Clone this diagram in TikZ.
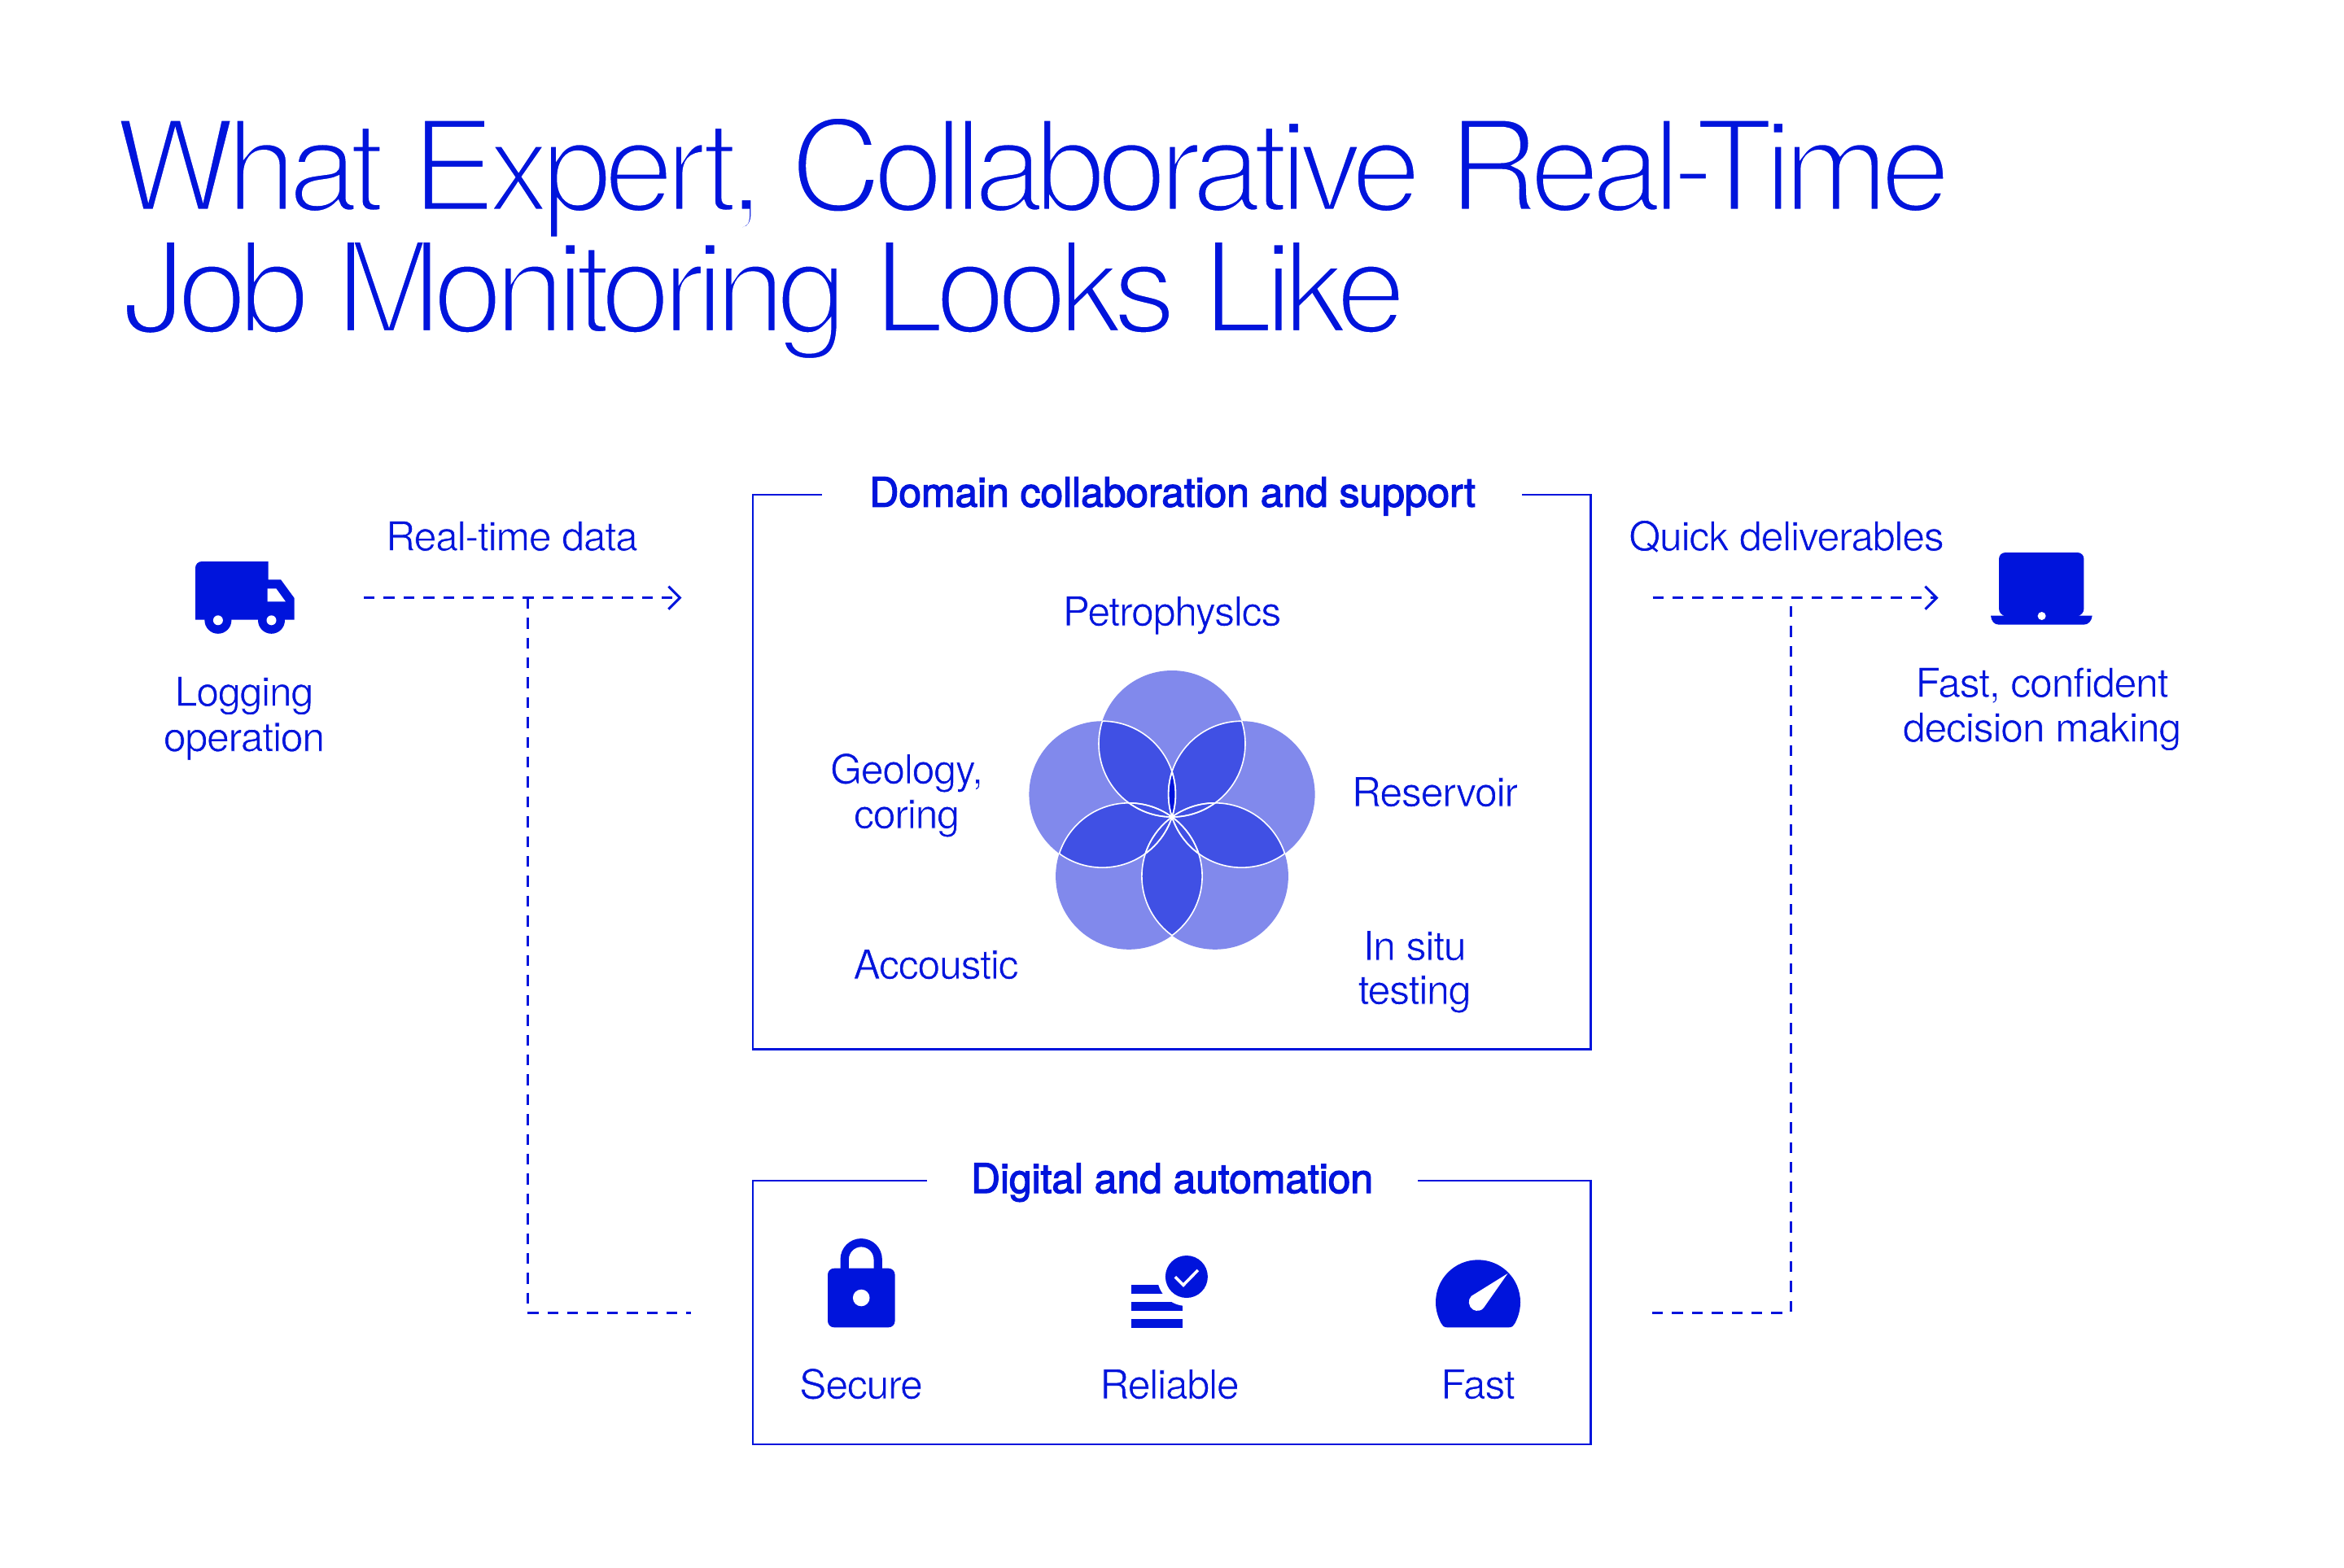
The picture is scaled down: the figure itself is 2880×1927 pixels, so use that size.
\documentclass[tikz,border=0pt]{standalone}
\usepackage{fontspec}
\usetikzlibrary{arrows.meta}
\setmainfont{TeX Gyre Heros}
\newfontfamily\headfont[FakeBold=2.5,LetterSpace=-0.3]{TeX Gyre Heros}
\newfontfamily\labelfont[LetterSpace=-2.5]{TeX Gyre Heros}
\newfontfamily\titlefont[LetterSpace=-7]{TeX Gyre Heros}
\definecolor{ink}{HTML}{0014DC}
\definecolor{petal}{HTML}{8189EC}
\definecolor{lens}{HTML}{4050E4}
\newcommand{\lighttext}{\special{pdf:code 2 Tr 1 1 1 RG 0.35 w}}
\newcommand{\lighttitle}{\special{pdf:code 2 Tr 1 1 1 RG 2.8 w}}
\tikzset{
  lbl/.style={text=ink,anchor=base,inner sep=0pt,font=\fontsize{25}{27.8}\labelfont},
  headlbl/.style={text=ink,anchor=base,inner sep=0pt,font=\fontsize{25}{27}\headfont},
  titlelbl/.style={text=ink,anchor=base west,inner sep=0pt,font=\fontsize{78}{80}\titlefont},
  frame/.style={draw=ink,line width=1.45pt},
  flowline/.style={draw=ink,line width=1.5pt,dash pattern=on 6.7pt off 5.5pt},
  flowarrow/.style={flowline,-{Straight Barb[length=7pt,width=14pt,line width=1.5pt]}},
  whiteline/.style={draw=white,line width=0.8pt},
}
\begin{document}
\begin{tikzpicture}[x=0.5pt,y=-0.5pt]
\useasboundingbox (0,0) rectangle (2880,1927);
\fill[white] (0,0) rectangle (2880,1927);
% title
\node[titlelbl] (t1) at (141,259.5) {\lighttitle What Expert, Collaborative Real-Time};
\node[titlelbl] (t2) at (150,408.8) {\lighttitle Job Monitoring Looks Like};
% boxes
\coordinate (bA) at (1009.5,608); \coordinate (bB) at (925,608); \coordinate (bC) at (925,1289.3);
\coordinate (bD) at (1954.4,1289.3); \coordinate (bE) at (1954.4,608); \coordinate (bF) at (1869.7,608);
\draw[frame] (bA) -- (bB) -- (bC) -- (bD) -- (bE) -- (bF);
\coordinate (cA) at (1139,1451); \coordinate (cB) at (925,1451); \coordinate (cC) at (925,1775);
\coordinate (cD) at (1954.4,1775); \coordinate (cE) at (1954.4,1451); \coordinate (cF) at (1741.6,1451);
\draw[frame] (cA) -- (cB) -- (cC) -- (cD) -- (cE) -- (cF);
% flower
\foreach \a in {0,72,144,216,288}{
  \fill[petal] ({1440+90*sin(\a)},{1004-90*cos(\a)}) circle [radius=90];
}
\foreach \a in {0,72,144,216,288}{
  \begin{scope}
    \clip ({1440+90*sin(\a)},{1004-90*cos(\a)}) circle [radius=90];
    \fill[lens] ({1440+90*sin(\a+72)},{1004-90*cos(\a+72)}) circle [radius=90];
  \end{scope}
  \begin{scope}
    \clip ({1440+90*sin(\a)},{1004-90*cos(\a)}) circle [radius=90];
    \fill[ink] ({1440+90*sin(\a+144)},{1004-90*cos(\a+144)}) circle [radius=90];
  \end{scope}
}
\foreach \a in {0,72,144,216,288}{
  \foreach \d in {72,144,216,288}{
    \begin{scope}
      \clip ({1440+90*sin(\a+\d)},{1004-90*cos(\a+\d)}) circle [radius=90];
      \draw[whiteline] ({1440+90*sin(\a)},{1004-90*cos(\a)}) circle [radius=90];
    \end{scope}
  }
}
% truck
\fill[ink] (248,690) -- (329.5,690) -- (329.5,712.3) -- (345,712.3) -- (361.6,735) -- (361.6,761.7) -- (240,761.7) -- (240,698) .. controls (240,693.5) and (243.5,690) .. (248,690) -- cycle;
\fill[ink] (267.9,762.3) circle [radius=16.5] (333.5,762.3) circle [radius=16.5];
\fill[white] (267.9,762.3) circle [radius=6] (333.5,762.3) circle [radius=6];
\fill[white] (328.6,723.3) -- (339.3,723.3) -- (350.9,739.3) -- (328.6,739.3) -- cycle;
% laptop
\fill[ink] (2464,679) -- (2552.4,679) .. controls (2557,679) and (2560.4,682.5) .. (2560.4,687) -- (2560.4,748) .. controls (2560.4,752.5) and (2557,756.7) .. (2552.4,756.7) -- (2570.6,756.7) .. controls (2570,763) and (2566,767.7) .. (2560,767.7) -- (2456,767.7) .. controls (2450,767.7) and (2446.6,763) .. (2446,756.7) -- (2464,756.7) .. controls (2459.5,756.7) and (2456,752.5) .. (2456,748) -- (2456,687) .. controls (2456,682.5) and (2459.5,679) .. (2464,679) -- cycle;
\fill[white] (2508.6,757) circle [radius=5];
% lock
\draw[ink,line width=5.15pt] (1037.7,1562) -- (1037.7,1547.7) arc [start angle=180,end angle=360,radius=20.5] -- (1078.7,1562);
\fill[ink] (1025,1558.7) -- (1091.6,1558.7) .. controls (1096,1558.7) and (1099.6,1562) .. (1099.6,1566.7) -- (1099.6,1623.3) .. controls (1099.6,1628) and (1096,1631.3) .. (1091.6,1631.3) -- (1025,1631.3) .. controls (1020.5,1631.3) and (1017,1628) .. (1017,1623.3) -- (1017,1566.7) .. controls (1017,1562) and (1020.5,1558.7) .. (1025,1558.7) -- cycle;
\fill[white] (1058.2,1595) circle [radius=10.3];
% reliable
\fill[ink] (1390.4,1579.3) rectangle (1452.9,1590);
\fill[ink] (1390.4,1600) rectangle (1452.9,1610.7);
\fill[ink] (1390.4,1621) rectangle (1452.9,1631.7);
\fill[white] (1457.9,1569) circle [radius=36];
\fill[ink] (1457.9,1569) circle [radius=26];
\draw[white,line width=1.8pt] (1443.9,1569.3) -- (1453.9,1579.3) -- (1471.8,1561);
% gauge
\fill[ink] (1778,1631.3) -- (1854,1631.3) .. controls (1858,1631.3) and (1860,1629) .. (1861.5,1626) .. controls (1866,1617) and (1868,1609) .. (1868,1600.3) arc [start angle=0,end angle=-180,radius=52] .. controls (1764,1609) and (1766,1617) .. (1770.5,1626) .. controls (1772,1629) and (1774,1631.3) .. (1778,1631.3) -- cycle;
\fill[white] (1852.5,1565) -- (1807.9,1592.7) .. controls (1803,1597) and (1804,1606) .. (1810,1609.5) .. controls (1815,1612) and (1820,1611) .. (1822.9,1607.3) -- cycle;
% connectors
\coordinate (d1) at (447,734.7); \coordinate (d2) at (837.5,734.7); \coordinate (d3) at (648,734.7);
\coordinate (d4) at (648,1613); \coordinate (d5) at (849,1613);
\draw[flowarrow] (d1) -- (d2);
\draw[flowline] (d3) -- (d4) -- (d5);
\coordinate (e1) at (2030.6,734.7); \coordinate (e2) at (2381.6,734.7); \coordinate (e3) at (2200,734.7);
\coordinate (e4) at (2200,1613); \coordinate (e5) at (2030,1613);
\draw[flowarrow] (e1) -- (e2);
\draw[flowline] (e5) -- (e4) -- (e3);
% labels
\node[lbl] (realtime) at (629,676.7) {\lighttext Real-time data};
\node[lbl] (quick) at (2195,676.7) {\lighttext Quick deliverables};
\node[lbl] (log1) at (300,867.7) {\lighttext Logging};
\node[lbl] (log2) at (300,923.3) {\lighttext operation};
\node[lbl] (fast1) at (2509,856.7) {\lighttext Fast, confident};
\node[lbl] (fast2) at (2509,911.7) {\lighttext decision making};
\node[headlbl] (domain) at (1440.6,622.7) {Domain collaboration and support};
\node[lbl] (petro) at (1440,769) {\lighttext Petrophyslcs};
\node[lbl] (geo1) at (1114,963) {\lighttext Geology,};
\node[lbl] (geo2) at (1114,1018) {\lighttext coring};
\node[lbl] (res) at (1763,991) {\lighttext Reservoir};
\node[lbl] (acc) at (1150,1203) {\lighttext Accoustic};
\node[lbl] (situ1) at (1738,1180) {\lighttext In situ};
\node[lbl] (situ2) at (1738,1234) {\lighttext testing};
\node[headlbl] (digital) at (1440,1466) {Digital and automation};
\node[lbl] (secure) at (1058,1719) {\lighttext Secure};
\node[lbl] (reliable) at (1437,1719) {\lighttext Reliable};
\node[lbl] (fastl) at (1816,1719) {\lighttext Fast};
\end{tikzpicture}
\end{document}
